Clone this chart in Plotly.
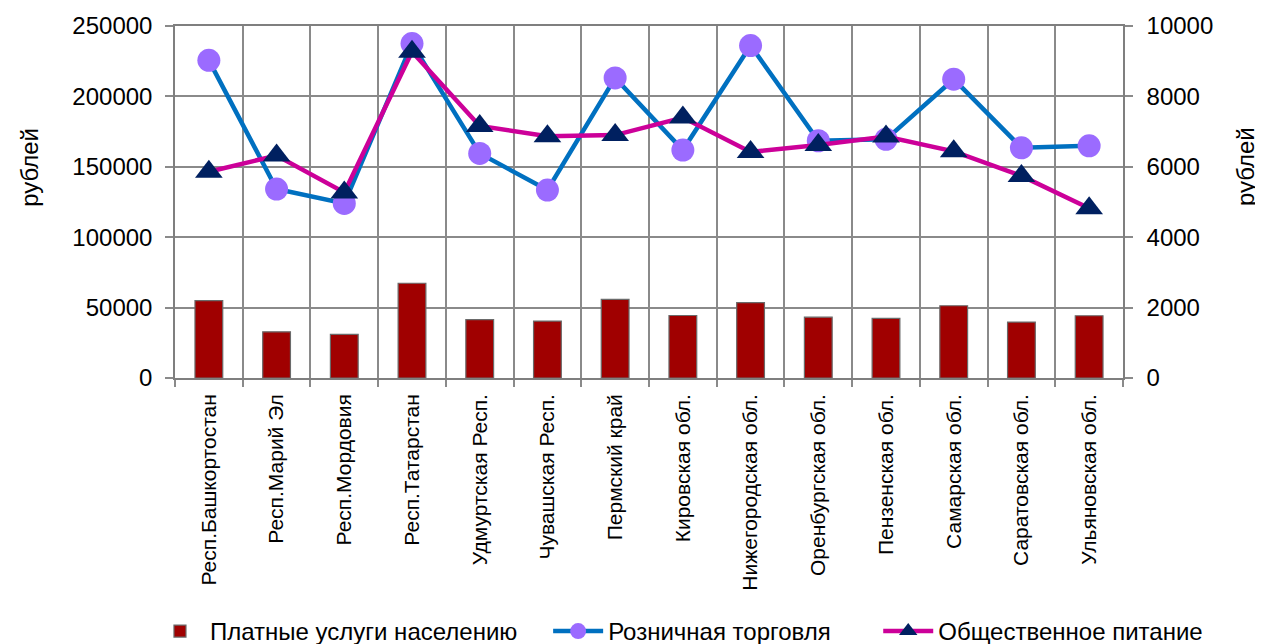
import plotly.graph_objects as go

regions = ["Респ.Башкортостан", "Респ.Марий Эл", "Респ.Мордовия", "Респ.Татарстан",
           "Удмуртская Респ.", "Чувашская Респ.", "Пермский край", "Кировская обл.",
           "Нижегородская обл.", "Оренбургская обл.", "Пензенская обл.", "Самарская обл.",
           "Саратовская обл.", "Ульяновская обл."]
paid_services = [55000, 32800, 31000, 67300, 41400, 40400, 55800, 44400,
                 53600, 43200, 42300, 51300, 39700, 44200]
retail = [225600, 134200, 124000, 237500, 159500, 133500, 213100, 161900,
          236100, 168500, 169500, 212200, 163500, 164900]
catering = [5860, 6320, 5270, 9270, 7160, 6870, 6900, 7400,
            6420, 6620, 6860, 6440, 5740, 4820]

left_ticks = [0, 50000, 100000, 150000, 200000, 250000]
right_ticks = [0, 2000, 4000, 6000, 8000, 10000]

FONT = "Liberation Sans, Arial, sans-serif"
GRID = "#8a8a8a"
LEG_Y = -0.72

fig = go.Figure()
fig.add_trace(go.Bar(
    x=regions, y=paid_services, name="Платные услуги населению",
    marker=dict(color="#a00000", line=dict(color="#6a6a6a", width=1.2)),
    width=0.41, yaxis="y", legend="legend"))
fig.add_trace(go.Scatter(
    x=regions, y=retail, name="Розничная торговля", mode="lines+markers",
    line=dict(color="#0070c0", width=4.5),
    marker=dict(symbol="circle", size=23, color="#9b6bff"), yaxis="y", legend="legend2"))
fig.add_trace(go.Scatter(
    x=regions, y=catering, name="Общественное питание", mode="lines+markers",
    line=dict(color="#cc0099", width=4.5),
    marker=dict(symbol="triangle-up", size=24, color="#002060"), yaxis="y2", legend="legend3"))

leg_common = dict(orientation="h", yanchor="middle", xanchor="left", y=LEG_Y,
                  font=dict(size=24, family=FONT), itemwidth=50,
                  bgcolor="rgba(0,0,0,0)")

fig.update_layout(
    width=1255, height=636,
    margin=dict(l=167, r=140, t=18, b=266, autoexpand=False),
    plot_bgcolor="white", paper_bgcolor="white",
    font=dict(family=FONT, color="black", size=20),
    showlegend=True,
    legend=dict(x=-0.0264, **leg_common),
    legend2=dict(x=0.3936, **leg_common),
    legend3=dict(x=0.7418, **leg_common),
    xaxis=dict(type="category", tickson="boundaries", showgrid=True, gridcolor=GRID,
               gridwidth=1.5, tickangle=-90, ticks="outside", ticklen=7,
               tickcolor=GRID, tickwidth=1.5, ticklabelstandoff=6,
               showline=True, linecolor="#7f7f7f", linewidth=1.5, mirror=True,
               tickfont=dict(size=21, family=FONT), range=[-0.5, 13.5]),
    yaxis=dict(range=[0, 250000], tickvals=left_ticks, showgrid=True, gridcolor=GRID,
               gridwidth=1.5, ticks="outside", ticklen=8, tickcolor=GRID, tickwidth=1.5,
               showline=True, linecolor="#7f7f7f", linewidth=1.5, zeroline=False,
               tickfont=dict(size=24, family=FONT), tickformat="d", ticklabelstandoff=8),
    yaxis2=dict(range=[0, 10000], tickvals=right_ticks, overlaying="y", side="right",
                showgrid=False, ticks="outside", ticklen=8, tickcolor=GRID, tickwidth=1.5,
                showline=True, linecolor="#7f7f7f", linewidth=1.5, zeroline=False,
                tickfont=dict(size=24, family=FONT), tickformat="d", ticklabelstandoff=9),
    annotations=[
        dict(text="рублей", xref="paper", yref="paper", x=-0.153, y=0.6,
             showarrow=False, textangle=-90, font=dict(size=24, family=FONT),
             xanchor="center", yanchor="middle"),
        dict(text="рублей", xref="paper", yref="paper", x=1.13, y=0.6,
             showarrow=False, textangle=-90, font=dict(size=24, family=FONT),
             xanchor="center", yanchor="middle"),
    ],
)

fig.write_html("out.html")
